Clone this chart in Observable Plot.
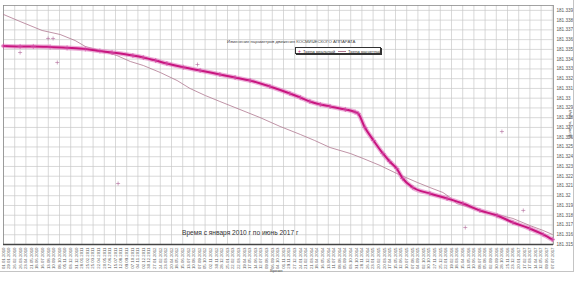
<!DOCTYPE html>
<html>
<head>
<meta charset="utf-8">
<script src="https://cdn.jsdelivr.net/npm/d3@7"></script>
<script src="https://cdn.jsdelivr.net/npm/@observablehq/plot@0.6"></script>
<style>
  html, body { margin: 0; padding: 0; background: #fff; }
  #wrap { position: relative; width: 580px; height: 281px; overflow: hidden; font-family: "Liberation Sans", Arial, sans-serif; }
  #wrap svg { position: absolute; left: 0; top: 0; }
  .ov { position: absolute; white-space: nowrap; color: #333; }
  #outer { position: absolute; left: 0; top: 0; width: 574px; height: 272px; border-right: 1.5px solid #c4c4c4; border-bottom: 1.5px solid #c4c4c4; box-sizing: border-box; pointer-events: none; }
  #title { left: 227px; top: 39px; font-size: 4.3px; color: #444; }
  #legend { left: 295px; top: 47px; width: 86px; height: 7px; border: 0.7px solid #333; box-shadow: 1px 1px 0 #333; background: #fff; font-size: 4.2px; color: #333; box-sizing: border-box; }
  #legend span { position: absolute; top: 1px; }
  #period { left: 182px; top: 229px; font-size: 6.6px; color: #333; }
  #xlabel { left: 270px; top: 268px; font-size: 4.2px; color: #555; }
  #ylabel { left: 569px; top: 124px; font-size: 4.4px; color: #555; transform: translate(-50%, -50%) rotate(-90deg); }
</style>
</head>
<body>
<div id="wrap"></div>
<script>
// ---- data ----
const chartTitle = "Изменение параметров движения КОСМИЧЕСКОГО АППАРАТА";
const seriesNames = ["Тренд реальный", "Тренд расчетный"];
const periodText = "Время с января 2010 г по июнь 2017 г";
const xTitle = "Время";
const yTitle = "Долгота, град";

const xStart = "2010-01-01";
const xEnd = "2017-07-13";
const xTickStepDays = 28;
const xTickCount = 99;

const yTicks = [181.315, 181.316, 181.317, 181.318, 181.319, 181.32, 181.321, 181.322, 181.323, 181.324,
  181.325, 181.326, 181.327, 181.328, 181.329, 181.33, 181.331, 181.332, 181.333, 181.334,
  181.335, 181.336, 181.337, 181.338, 181.339];

const realDates = ["2010-01-01","2010-03-25","2010-05-30","2010-08-22","2010-11-15","2011-02-14","2011-04-28","2011-06-28",
  "2011-10-10","2011-12-01","2012-02-01","2012-03-28","2012-06-18","2012-09-10","2012-12-18","2013-03-04","2013-05-18",
  "2013-08-25","2013-12-03","2014-01-24","2014-03-13","2014-05-04","2014-06-22","2014-09-06","2014-10-25","2014-11-09",
  "2014-12-13","2015-01-25","2015-03-13","2015-04-16","2015-05-21","2015-06-20","2015-08-10","2015-11-03","2016-01-28",
  "2016-04-16","2016-07-10","2016-10-04","2016-12-22","2017-03-16","2017-05-22","2017-07-07"];
const realValues = [181.33535,181.33530,181.33530,181.33525,181.33516,181.33504,181.33484,181.33468,
  181.33437,181.33417,181.33386,181.33355,181.33317,181.33284,181.33243,181.33212,181.33181,
  181.33120,181.33048,181.33007,181.32966,181.32935,181.32915,181.32884,181.32858,181.32843,
  181.32699,181.32566,181.32433,181.32351,181.32279,181.32177,181.32084,181.32023,181.31972,
  181.31920,181.31849,181.31797,181.31726,181.31664,181.31603,181.31551];

const calcDates = ["2010-01-01","2010-03-25","2010-07-13","2010-10-11","2010-12-25","2011-02-14","2011-04-28","2011-07-22",
  "2011-09-27","2011-12-01","2012-02-24","2012-05-18","2012-07-22","2012-10-06","2012-12-18","2013-03-28","2013-07-06",
  "2013-10-15","2014-01-24","2014-04-06","2014-06-22","2014-10-01","2014-12-04","2015-02-27","2015-05-21","2015-09-01",
  "2015-11-03","2016-01-07","2016-02-12","2016-03-16","2016-05-22","2016-07-25","2016-10-04","2016-12-22","2017-03-16",
  "2017-05-22","2017-07-07"];
const calcValues = [181.33858,181.33786,181.33694,181.33653,181.33591,181.33530,181.33489,181.33437,
  181.33376,181.33335,181.33263,181.33181,181.33099,181.33027,181.32966,181.32884,181.32802,
  181.32710,181.32628,181.32566,181.32494,181.32433,181.32382,181.32310,181.32228,181.32136,
  181.32084,181.32033,181.31982,181.31920,181.31879,181.31838,181.31808,181.31767,181.31695,
  181.31644,181.31603];

const outlierDates = ["2010-03-25","2010-09-27","2010-08-12","2010-09-06","2012-08-28","2011-07-28","2016-10-28","2016-04-28","2017-02-12"];
const outlierValues = [181.33468,181.33366,181.33612,181.33612,181.33345,181.32125,181.32658,181.31674,181.31849];

// ---- build tables ----
const real = realDates.map((d, i) => ({date: new Date(d), value: realValues[i]}));
const calc = calcDates.map((d, i) => ({date: new Date(d), value: calcValues[i]}));
const outliers = outlierDates.map((d, i) => ({date: new Date(d), value: outlierValues[i]}));
const t0 = new Date(xStart);
const xTicks = d3.range(xTickCount).map(i => d3.utcDay.offset(t0, i * xTickStepDays));
const gridTicks = xTicks.filter((d, i) => i % 2 === 0);
const fmtDate = d3.utcFormat("%d.%m.%Y");

const magenta = "#c8157f";
const calcColor = "#b07890";

const chart = Plot.plot({
  width: 580,
  height: 281,
  marginLeft: 3,
  marginRight: 27,
  marginTop: 5,
  marginBottom: 37,
  style: {fontFamily: "'Liberation Sans', Arial, sans-serif", background: "transparent", overflow: "visible"},
  x: {type: "utc", domain: [new Date(xStart), new Date(xEnd)], axis: null},
  y: {domain: [181.315, 181.3395], axis: null},
  marks: [
    Plot.gridX(gridTicks, {stroke: "#c9c9c9", strokeOpacity: 1, strokeWidth: 0.7}),
    Plot.gridY(yTicks, {stroke: "#c9c9c9", strokeOpacity: 1, strokeWidth: 0.7}),
    Plot.frame({stroke: "#8c8c8c", strokeWidth: 0.8}),
    Plot.axisX(xTicks, {anchor: "bottom", tickRotate: -90, tickFormat: fmtDate, tickSize: 0, tickPadding: 3,
      fontSize: 4.3, fill: "#555", label: null}),
    Plot.axisY(yTicks, {anchor: "right", tickFormat: d => String(+d.toFixed(3)), tickSize: 0, tickPadding: 3,
      fontSize: 4.6, fill: "#555", label: null}),
    Plot.ruleY([181.315], {stroke: "#444", strokeWidth: 1.6}),
    Plot.line(calc, {x: "date", y: "value", stroke: calcColor, strokeWidth: 0.8, curve: "linear"}),
    Plot.line(real, {x: "date", y: "value", stroke: "#e17cc0", strokeWidth: 4.6, strokeOpacity: 0.6, curve: "monotone-x"}),
    Plot.line(real, {x: "date", y: "value", stroke: magenta, strokeWidth: 2, curve: "monotone-x"}),
    Plot.dot(real, {x: "date", y: "value", symbol: "plus", r: 1.8, stroke: "#d24aa6", strokeWidth: 0.6}),
    Plot.dot(outliers, {x: "date", y: "value", symbol: "plus", r: 1.4, stroke: "#b06a9a", strokeWidth: 0.6})
  ]
});

const wrap = document.getElementById("wrap");
wrap.appendChild(chart);

function addDiv(id, cls, text) {
  const el = document.createElement("div");
  el.id = id;
  if (cls) el.className = cls;
  if (text) el.textContent = text;
  wrap.appendChild(el);
  return el;
}
addDiv("outer", "", "");
addDiv("title", "ov", chartTitle);
addDiv("period", "ov", periodText);
addDiv("xlabel", "ov", xTitle);
addDiv("ylabel", "ov", yTitle);

const legend = addDiv("legend", "ov", "");
legend.innerHTML =
  `<span style="left:2px;color:${magenta};font-size:5px;top:0px">+</span>` +
  `<span style="left:7px">${seriesNames[0]}</span>` +
  `<span style="left:42px;top:3px;width:8px;height:0;border-top:0.8px solid ${calcColor}"></span>` +
  `<span style="left:52px">${seriesNames[1]}</span>`;
</script>
</body>
</html>
